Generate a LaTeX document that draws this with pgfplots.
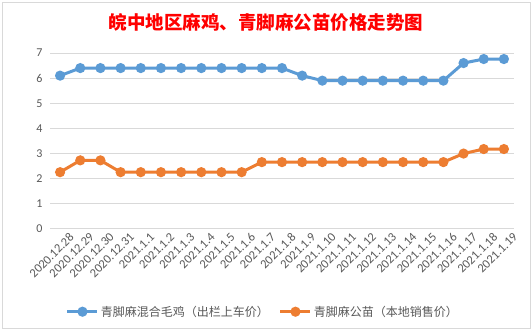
\documentclass[border=0pt]{standalone}
\usepackage{pgfplots}
\pgfplotsset{compat=1.18}
\usepackage{fontspec}
\setmainfont{Carlito}
\newfontfamily\cjk{Noto Sans CJK SC}
\definecolor{sblue}{HTML}{5B9BD5}
\definecolor{sorange}{HTML}{ED7D31}
\definecolor{gridg}{HTML}{D9D9D9}
\definecolor{tickg}{HTML}{595959}
\begin{document}
\begin{tikzpicture}[x=1pt,y=1pt]
\useasboundingbox (0,0) rectangle (532,331);
\fill[white] (0,0) rectangle (532,331);
\draw[gridg, line width=1pt] (2.5,2.5) rectangle (530,328.5);
\node[text=red, font=\cjk\bfseries\fontsize{18.5}{20}\selectfont] at (266,309) {皖中地区麻鸡、青脚麻公苗价格走势图};
\begin{axis}[
  at={(50pt,102pt)}, anchor=south west,
  scale only axis, width=464pt, height=176pt,
  xmin=-0.5, xmax=22.5, ymin=0, ymax=7,
  ytick={0,1,...,7},
  xtick={0,1,...,22},
  xticklabels={2020.12.28,2020.12.29,2020.12.30,2020.12.31,2021.1.1,2021.1.2,2021.1.3,2021.1.4,2021.1.5,2021.1.6,2021.1.7,2021.1.8,2021.1.9,2021.1.10,2021.1.11,2021.1.12,2021.1.13,2021.1.14,2021.1.15,2021.1.16,2021.1.17,2021.1.18,2021.1.19},
  /pgf/number format/assume math mode=true,
  ymajorgrids, grid style={gridg, line width=1pt},
  axis x line*=bottom, axis y line*=left,
  x axis line style={gridg, line width=1pt},
  y axis line style={draw=none},
  major tick length=0pt,
  tick label style={text=tickg, font=\fontsize{12}{14}\selectfont},
  yticklabel style={xshift=-4pt},
  xticklabel style={rotate=45, anchor=north east, inner sep=1pt, xshift=5pt, yshift=-7pt, font=\fontsize{12.5}{14}\selectfont},
  legend style={at={(0.459,-0.47)}, anchor=center, draw=none, fill=none,
    legend columns=2, font=\cjk\fontsize{12}{14}\selectfont, text=tickg,
    /tikz/every even column/.append style={column sep=8pt}},
  legend cell align=left,
  legend image code/.code={\draw[#1, mark repeat=2, mark phase=2] plot coordinates {(0pt,0pt) (15pt,0pt) (30pt,0pt)};},
]
\addplot[sblue, line width=3pt, mark=*, mark size=3.5pt, mark options={solid}] coordinates {
(0,6.1) (1,6.4) (2,6.4) (3,6.4) (4,6.4) (5,6.4) (6,6.4) (7,6.4) (8,6.4) (9,6.4) (10,6.4) (11,6.4)
(12,6.1) (13,5.9) (14,5.9) (15,5.9) (16,5.9) (17,5.9) (18,5.9) (19,5.9) (20,6.6) (21,6.76) (22,6.76)};
\addlegendentry{青脚麻混合毛鸡（出栏上车价）}
\addplot[sorange, line width=3pt, mark=*, mark size=3.5pt, mark options={solid}] coordinates {
(0,2.26) (1,2.73) (2,2.73) (3,2.26) (4,2.26) (5,2.26) (6,2.26) (7,2.26) (8,2.26) (9,2.26) (10,2.66) (11,2.66)
(12,2.66) (13,2.66) (14,2.66) (15,2.66) (16,2.66) (17,2.66) (18,2.66) (19,2.66) (20,3.0) (21,3.18) (22,3.18)};
\addlegendentry{青脚麻公苗（本地销售价）}
\end{axis}
\end{tikzpicture}
\end{document}
